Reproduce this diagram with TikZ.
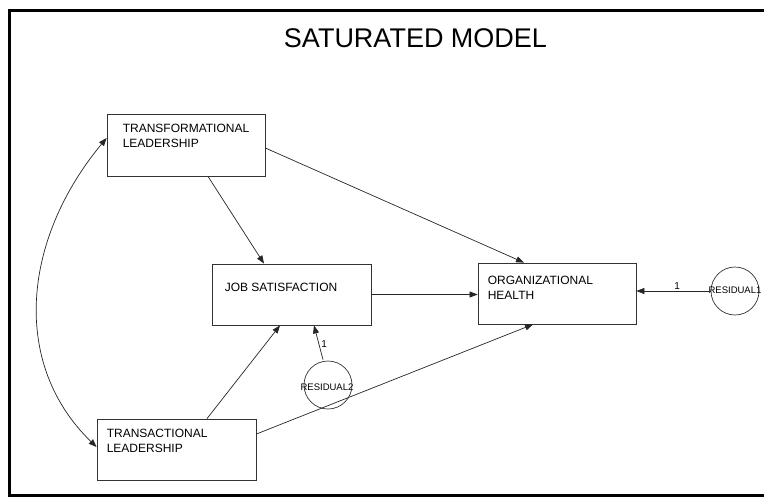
\documentclass[tikz,border=0pt]{standalone}
\usepackage{fontspec}
\setmainfont{Liberation Sans}
\usetikzlibrary{arrows.meta}
\begin{document}
\begin{tikzpicture}[x=1pt,y=-1pt,
  varbox/.style={draw=black!80, line width=0.8pt, rectangle, minimum width=158pt, minimum height=61pt, inner sep=0pt},
  resid/.style={draw=black!80, line width=0.7pt, circle, minimum size=48pt, inner sep=0pt},
  lbl/.style={anchor=north west, inner sep=0pt, align=left, font=\fontsize{12}{15}\selectfont},
  rlbl/.style={inner sep=0pt, font=\fontsize{9.5}{10}\selectfont},
  onelbl/.style={inner sep=0pt, font=\fontsize{10}{11}\selectfont},
  path/.style={draw=black!85, line width=0.7pt, -{Triangle[length=8pt,width=6pt]}},
  cov/.style={draw=black!85, line width=0.7pt, {Triangle[length=8pt,width=6pt]}-{Triangle[length=8pt,width=6pt]}}
]
\useasboundingbox (0,0) rectangle (764,496);
\fill[white] (0,0) rectangle (764,496);
% frame
\draw[line width=3pt, black] (9.5,10.5) -- (780,10.5);
\draw[line width=3pt, black] (9.5,9) -- (9.5,498);
\draw[line width=3pt, black] (8,495) -- (780,495);
% title
\node[inner sep=0pt, font=\fontsize{27}{30}\selectfont] (title) at (415.5,38) {SATURATED MODEL};
% variables
\node[varbox, minimum width=158pt, minimum height=62pt] (TL) at (186,145) {};
\node[varbox, minimum width=159pt] (JS) at (291.5,294.5) {};
\node[varbox] (OH) at (557,293.5) {};
\node[varbox, minimum width=159pt] (TA) at (176.5,449.5) {};
\node[resid] (R1) at (735,291) {};
\node[resid] (R2) at (328,385) {};
% labels
\node[lbl] (TLt) at ([xshift=16pt,yshift=-10.7pt]TL.north west) {TRANSFORMATIONAL\\LEADERSHIP};
\node[lbl] (JSt) at ([xshift=13pt,yshift=-19.7pt]JS.north west) {JOB SATISFACTION};
\node[lbl] (OHt) at ([xshift=10pt,yshift=-13.7pt]OH.north west) {ORGANIZATIONAL\\HEALTH};
\node[lbl] (TAt) at ([xshift=10pt,yshift=-10.7pt]TA.north west) {TRANSACTIONAL\\LEADERSHIP};
\node[rlbl] (R1t) at (735,290) {RESIDUAL1};
\node[rlbl] (R2t) at (327,387) {RESIDUAL2};
% paths
\draw[path] ([xshift=22pt]TL.south) -- ([xshift=-27.5pt]JS.north);
\draw[path] ([yshift=-3pt]TL.east) -- ([xshift=-33pt]OH.north);
\draw[path] (JS.east) -- (JS.east -| OH.west);
\draw[path] ([xshift=30.5pt]TA.north) -- ([xshift=-11.5pt]JS.south);
\draw[path] ([yshift=15.5pt]TA.east) -- ([xshift=-24pt]OH.south);
\draw[path] ([xshift=-5pt,yshift=1pt]R2.north) -- node[onelbl, pos=0.45, right=2pt] (one2) {1} ([xshift=22.5pt]JS.south);
\draw[path] (R1.west) -- node[onelbl, pos=0.45, above=1pt] (one1) {1} (R1.west -| OH.east);
% covariance
\draw[cov] ([yshift=7pt]TL.west) .. controls (22,240) and (11,364) .. ([yshift=2.5pt]TA.west);
\end{tikzpicture}
\end{document}
